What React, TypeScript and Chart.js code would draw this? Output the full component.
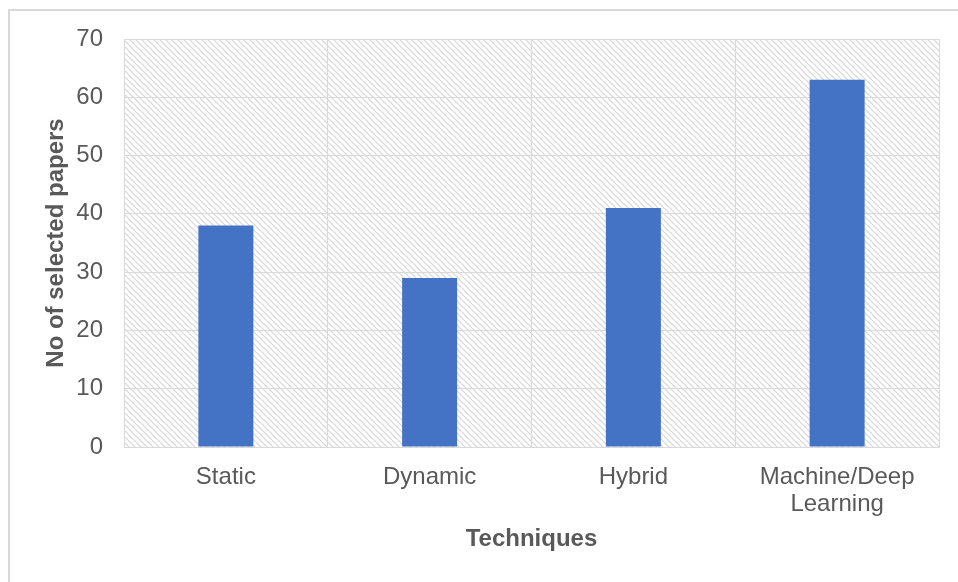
import React, { useEffect, useRef } from "react";
import { Chart, registerables } from "chart.js";

Chart.register(...registerables);

const categories: (string | string[])[] = ["Static", "Dynamic", "Hybrid", ["Machine/Deep", "Learning"]];
const papers: number[] = [38, 29, 41, 63];
const yTitle = "No of selected papers";
const xTitle = "Techniques";

const TEXT = "#595959";
const GRID = "#d9d9d9";
const FONT = "'Liberation Sans', Arial, sans-serif";

function makeHatch(ctx: CanvasRenderingContext2D): CanvasPattern | string {
  const t = document.createElement("canvas");
  t.width = 6;
  t.height = 6;
  const c = t.getContext("2d");
  if (!c) return "#ffffff";
  c.fillStyle = "#ffffff";
  c.fillRect(0, 0, 6, 6);
  c.strokeStyle = "#d6d6d6";
  c.lineWidth = 1.2;
  c.beginPath();
  c.moveTo(-1, -1);
  c.lineTo(7, 7);
  c.moveTo(-1, 5);
  c.lineTo(1, 7);
  c.moveTo(5, -1);
  c.lineTo(7, 1);
  c.stroke();
  return ctx.createPattern(t, "repeat") || "#ffffff";
}

const framePlugin = {
  id: "frameHatch",
  beforeDraw(chart: any) {
    const { ctx, chartArea, width, height } = chart;
    ctx.save();
    ctx.fillStyle = "#ffffff";
    ctx.fillRect(0, 0, width, height);
    ctx.strokeStyle = GRID;
    ctx.lineWidth = 2;
    ctx.beginPath();
    ctx.moveTo(9, height + 2);
    ctx.lineTo(9, 10);
    ctx.lineTo(width + 2, 10);
    ctx.stroke();
    ctx.fillStyle = makeHatch(ctx);
    ctx.fillRect(chartArea.left, chartArea.top, chartArea.right - chartArea.left, chartArea.bottom - chartArea.top);
    ctx.restore();
  },
};

export default function App() {
  const ref = useRef<HTMLCanvasElement | null>(null);
  useEffect(() => {
    if (!ref.current) return;
    const chart = new Chart(ref.current, {
      type: "bar",
      data: {
        labels: categories,
        datasets: [
          {
            data: papers,
            backgroundColor: "#4472C4",
            borderWidth: 0,
            categoryPercentage: 1,
            barPercentage: 0.27,
          },
        ],
      },
      options: {
        animation: false,
        responsive: false,
        layout: { padding: { left: 38, right: 19, top: 39, bottom: 24 } },
        plugins: { legend: { display: false }, tooltip: { enabled: false } },
        scales: {
          x: {
            afterFit: (s: any) => {
              s.height = 111;
            },
            grid: { color: GRID, lineWidth: 1, drawTicks: false, offset: true },
            border: { color: GRID, width: 1 },
            ticks: {
              color: TEXT,
              padding: 17,
              font: { family: FONT, size: 24, lineHeight: 1.125 },
              maxRotation: 0,
            },
            title: {
              display: true,
              text: xTitle,
              color: TEXT,
              font: { family: FONT, size: 24, weight: "bold", lineHeight: 1.2 },
              padding: { top: 4, bottom: 4 },
            },
          },
          y: {
            min: 0,
            max: 70,
            afterFit: (s: any) => {
              s.width = 86;
            },
            grid: { color: GRID, lineWidth: 1, drawTicks: false },
            border: { color: GRID, width: 1 },
            ticks: {
              stepSize: 10,
              color: TEXT,
              padding: 21,
              font: { family: FONT, size: 24 },
            },
            title: {
              display: true,
              text: yTitle,
              color: TEXT,
              font: { family: FONT, size: 24, weight: "bold", lineHeight: 1.2 },
              padding: { top: 4, bottom: 4 },
            },
          },
        },
      },
      plugins: [framePlugin],
    });
    return () => chart.destroy();
  }, []);
  return (
    <canvas
      ref={ref}
      width={958}
      height={582}
      style={{ position: "absolute", left: 0, top: 0, width: 958, height: 582 }}
    />
  );
}
